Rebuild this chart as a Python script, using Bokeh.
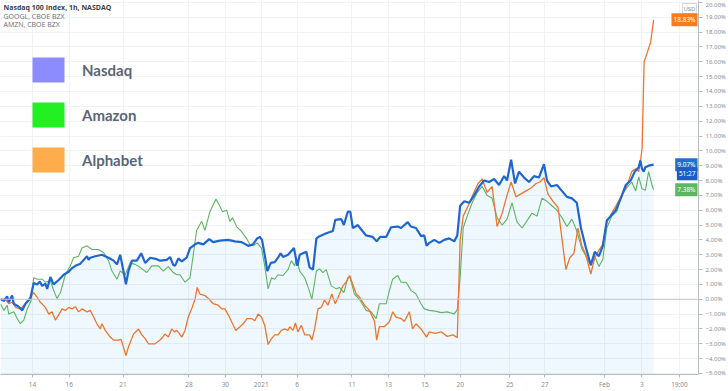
import numpy as np
from bokeh.plotting import figure
from bokeh.models import (Range1d, FixedTicker, Label, Span, Legend, LegendItem)
from bokeh.embed import file_html
from bokeh.resources import INLINE

# x: trading days since the 14 Dec 2020 session; y: % change
nasdaq_x = [-1.78,-1.59,-1.41,-1.32,-1.13,-1.04,-0.76,-0.57,-0.39,-0.11,
            0.07,0.26,0.41,0.54,0.72,0.82,1.0,1.18,1.46,1.74,
            2.02,2.21,2.39,2.67,3.04,3.13,3.22,3.5,3.87,4.24,
            4.52,4.71,4.89,5.07,5.21,5.35,5.54,5.82,6.06,6.28,
            6.56,6.93,7.11,7.48,7.67,7.85,7.94,8.13,8.32,8.59,
            8.78,9.06,9.24,9.52,9.85,10.07,10.44,10.91,11.28,11.65,
            12.02,12.29,12.52,12.67,12.79,12.94,13.09,13.28,13.5,13.68,
            13.83,13.96,14.24,14.57,14.76,14.89,15.26,15.44,15.63,15.82,
            16.0,16.37,16.74,16.87,17.21,17.35,17.57,17.71,17.85,18.13,
            18.32,18.59,18.96,19.18,19.37,19.71,19.98,20.35,20.54,20.72,
            20.91,21.09,21.37,21.65,21.83,21.96,22.11,22.39,22.67,22.94,
            23.22,23.5,23.67,23.83,24.06,24.33,24.61,24.89,25.17,25.44,
            25.72,26.0,26.28,26.44,26.67,26.89,27.11,27.39,27.67,27.94,
            28.22,28.5,28.67,28.89,29.22,29.5,29.78,30.06,30.33,30.56,
            30.83,31.11,31.33,31.56,31.78,32.0,32.22,32.5,32.78,33.06,
            33.33,33.56,33.78,33.87,33.96,34.06,34.15,34.33,34.61]
nasdaq_y = [0.0,-0.1,0.2,-0.2,0.25,-0.3,-0.5,-0.75,-0.3,0.1,
            1.1,1.0,1.2,0.9,1.05,0.7,1.5,1.0,1.3,1.65,
            1.85,2.1,2.25,2.4,2.9,2.65,2.8,2.9,3.0,2.8,
            2.6,2.35,3.0,1.9,1.0,1.9,2.6,2.6,3.1,2.45,
            2.8,2.7,2.6,2.65,2.85,2.3,2.25,2.75,2.55,2.8,
            3.45,3.7,3.8,3.7,4.05,3.85,3.95,4.0,3.9,3.85,
            3.6,3.7,4.1,4.2,4.0,3.0,1.9,2.45,2.5,2.8,
            3.1,2.85,3.0,3.45,2.25,3.0,3.2,2.15,2.0,4.1,
            4.25,4.45,4.6,5.35,5.4,5.0,5.9,5.9,4.8,5.0,
            4.7,4.3,4.2,3.9,4.2,4.2,4.85,4.9,4.8,5.0,
            5.2,4.9,4.8,4.25,4.3,3.6,3.8,4.0,3.8,4.0,
            4.1,3.9,4.3,6.3,6.6,6.5,7.0,7.6,8.0,7.9,
            8.1,7.7,8.3,8.0,9.4,7.8,8.6,8.2,7.9,8.3,
            8.2,9.1,8.0,7.6,7.7,7.3,6.9,6.8,6.5,4.8,
            3.5,2.3,3.2,2.9,3.6,5.3,5.6,6.0,6.8,7.7,
            8.0,8.6,8.9,9.35,8.8,8.6,8.9,9.0,9.07]

amazon_x = [-1.78,-1.59,-1.41,-1.32,-1.04,-0.85,-0.67,-0.48,-0.29,-0.07,
            0.07,0.26,0.54,0.72,1.0,1.18,1.37,1.56,1.83,2.11,
            2.29,2.57,2.76,3.04,3.32,3.68,3.96,4.24,4.43,4.71,
            4.89,5.17,5.44,5.72,6.0,6.37,6.65,7.02,7.29,7.57,
            7.85,8.04,8.22,8.5,8.78,8.96,9.15,9.43,9.61,9.89,
            10.22,10.41,10.59,10.82,11.0,11.15,11.37,11.65,11.93,12.11,
            12.29,12.52,12.76,12.94,13.13,13.32,13.5,13.68,13.96,14.24,
            14.43,14.61,14.71,14.89,15.17,15.39,15.57,15.82,16.0,16.18,
            16.37,16.65,16.93,17.11,17.35,17.57,17.69,17.94,18.22,18.59,
            18.87,19.15,19.33,19.71,19.89,20.07,20.35,20.54,20.82,21.09,
            21.37,21.65,21.83,22.11,22.44,22.78,23.11,23.5,23.67,23.83,
            24.0,24.22,24.5,24.78,25.06,25.33,25.61,25.89,26.17,26.44,
            26.72,27.0,27.28,27.56,27.83,28.11,28.39,28.67,28.94,29.22,
            29.5,29.78,30.06,30.33,30.61,30.89,31.11,31.33,31.56,31.78,
            32.0,32.28,32.56,32.83,33.11,33.39,33.61,33.78,33.96,34.15,
            34.33,34.52,34.61]
amazon_y = [-0.3,-0.75,-0.4,-1.0,-0.85,-1.3,-1.65,-1.4,-0.65,-0.1,
            1.45,1.35,1.35,1.15,1.25,0.6,0.05,0.45,1.65,2.25,
            2.8,2.9,3.45,3.6,3.35,3.35,3.15,2.6,1.9,1.35,
            1.9,1.65,2.45,2.35,2.15,1.8,2.25,2.25,1.9,2.2,
            1.8,1.65,1.65,1.15,1.45,3.0,4.65,5.25,4.65,5.9,
            6.75,6.35,5.9,6.0,5.25,5.5,4.9,4.55,4.1,3.7,
            3.6,3.8,3.45,2.25,0.7,1.45,1.35,1.65,1.6,2.0,
            2.6,2.25,2.8,1.9,1.45,0.7,0.0,1.9,2.05,1.8,
            2.0,0.9,0.7,0.8,0.45,1.45,1.5,0.35,0.0,-0.75,
            -0.85,-1.3,-0.3,-0.3,0.6,1.35,1.6,1.15,1.15,0.6,
            0.35,-0.3,-0.65,-0.75,-0.8,-0.9,-0.85,-1.0,-0.7,1.5,
            4.8,5.6,6.5,7.2,7.6,7.0,6.8,5.5,5.0,5.4,
            6.5,5.2,4.8,5.3,5.8,5.6,6.8,6.6,6.3,6.0,
            5.5,4.9,5.4,4.6,3.4,2.8,2.3,2.9,2.2,2.7,
            4.8,5.6,5.9,7.0,7.5,7.9,7.3,8.25,7.45,7.35,
            8.6,7.7,7.38]

alphabet_x = [-1.78,-1.5,-1.32,-1.13,-0.94,-0.67,-0.48,-0.29,-0.11,0.07,
              0.26,0.44,0.72,0.91,1.09,1.28,1.46,1.65,1.83,2.02,
              2.21,2.39,2.57,2.76,3.04,3.22,3.41,3.59,3.78,3.87,
              4.06,4.33,4.52,4.79,4.94,5.21,5.35,5.63,5.91,6.09,
              6.28,6.46,6.83,7.11,7.39,7.57,7.76,7.91,8.04,8.18,
              8.32,8.5,8.68,8.87,9.06,9.18,9.33,9.61,9.85,10.07,
              10.35,10.54,10.72,10.91,11.09,11.33,11.56,11.74,11.96,12.21,
              12.39,12.57,12.76,12.94,13.13,13.32,13.5,13.68,13.87,14.06,
              14.24,14.33,14.52,14.65,14.79,14.98,15.17,15.44,15.57,15.72,
              15.91,16.09,16.28,16.46,16.68,16.87,17.11,17.29,17.48,17.67,
              17.85,18.04,18.22,18.5,18.78,19.06,19.18,19.33,19.61,19.89,
              20.07,20.26,20.54,20.72,21.0,21.18,21.37,21.65,21.96,22.11,
              22.44,22.78,23.11,23.44,23.67,23.83,24.0,24.28,24.56,24.83,
              25.06,25.33,25.61,25.89,26.17,26.44,26.67,26.94,27.22,27.5,
              27.78,28.06,28.28,28.5,28.72,29.0,29.28,29.5,29.72,29.94,
              30.17,30.39,30.61,30.83,31.11,31.33,31.56,31.78,32.0,32.28,
              32.56,32.83,33.11,33.39,33.61,33.78,33.89,33.97,34.08,34.22,
              34.44,34.61]
alphabet_y = [0.0,0.0,-0.3,-0.2,-0.55,-0.65,-0.4,-0.2,0.15,0.45,
              0.15,-0.2,-0.55,-1.0,-0.85,-1.4,-1.05,-0.65,-0.75,-0.55,
              -0.65,-0.5,-0.85,-0.65,-0.85,-0.75,-1.2,-1.65,-2.0,-1.65,
              -2.1,-2.55,-2.75,-2.75,-2.7,-3.8,-3.2,-2.35,-2.0,-2.4,
              -2.65,-3.0,-3.0,-2.75,-2.35,-2.55,-2.0,-2.2,-2.1,-2.3,
              -2.55,-2.1,-1.2,-0.65,0.0,0.8,0.35,0.25,0.0,-0.3,
              -0.4,-0.65,-0.65,-1.05,-1.5,-2.1,-1.85,-1.65,-1.3,-1.3,
              -1.45,-1.0,-1.2,-1.75,-3.05,-2.65,-2.4,-2.4,-2.1,-2.0,
              -2.1,-1.85,-2.1,-1.6,-2.2,-1.75,-2.4,-2.4,-2.75,-2.0,
              -0.65,-0.55,-0.05,-0.4,0.35,-0.3,0.35,0.9,1.15,1.6,
              1.0,0.35,0.15,-0.4,-0.75,-1.5,-2.75,-1.85,-1.85,-1.5,
              -0.85,-1.2,-1.3,-1.5,-0.85,-2.0,-1.65,-2.0,-2.55,-2.2,
              -2.3,-2.2,-2.5,-2.4,-2.6,4.0,5.6,6.3,7.1,7.8,
              8.1,7.2,7.6,4.9,5.8,7.0,7.9,6.9,7.1,7.3,
              7.5,7.8,7.9,8.2,7.1,6.6,6.2,4.1,2.0,2.8,
              3.1,4.8,3.6,3.0,1.7,2.8,3.3,3.7,5.2,5.8,
              6.4,7.0,7.6,8.6,8.8,8.6,9.4,10.2,16.0,16.5,
              17.3,18.83]

tick_pos = [0, 2.05, 5.05, 8.72, 10.75, 12.75, 14.75, 17.8, 19.83, 21.87,
            23.83, 26.6, 28.55, 31.87, 33.95, 36.05]
tick_lbl = ["14", "16", "21", "28", "30", "2021", "6", "11", "13", "15",
            "20", "25", "27", "Feb", "3", "19:00"]
y_ticks = list(range(-5, 21))

legend_names = ["Nasdaq", "Amazon", "Alphabet"]
legend_colors = ["#8c8cff", "#22f022", "#ffad4a"]

x_start, x_end = -1.78, 37.11
y_start, y_end = -5.07, 20.13

BLUE = "#1f66d1"
GREEN = "#5db561"
ORANGE = "#f0752a"
GRID = "#f0f2f6"
AXIS = "#b8bbc4"
TXT = "#8a8d97"

p = figure(width=728, height=391, output_backend="svg", toolbar_location=None,
           x_range=Range1d(x_start, x_end), y_range=Range1d(y_start, y_end),
           y_axis_location="right",
           min_border_left=0, min_border_top=0, min_border_right=0, min_border_bottom=0)
p.outline_line_color = None
p.background_fill_color = "white"
p.border_fill_color = "white"

# axes
p.xaxis.ticker = FixedTicker(ticks=tick_pos)
p.xaxis.major_label_overrides = {t: l for t, l in zip(tick_pos, tick_lbl)}
p.xaxis.major_label_text_font_size = "6.5px"
p.xaxis.major_label_text_color = TXT
p.xaxis.major_label_text_font = "Noto Sans"
p.xaxis.major_label_standoff = 2
p.xaxis.major_tick_out = 3
p.xaxis.major_tick_in = 0
p.xaxis.minor_tick_line_color = None
p.xaxis.axis_line_color = AXIS
p.xaxis.major_tick_line_color = AXIS

p.yaxis.ticker = FixedTicker(ticks=y_ticks)
p.yaxis.major_label_overrides = {v: (f"{v:.2f}%").replace("-", "\u2212") for v in y_ticks}
p.yaxis.major_label_text_font_size = "6px"
p.yaxis.major_label_text_color = TXT
p.yaxis.major_label_text_font = "Noto Sans"
p.yaxis.major_label_standoff = 3
p.yaxis.major_tick_out = 4
p.yaxis.major_tick_in = 0
p.yaxis.minor_tick_line_color = None
p.yaxis.axis_line_color = AXIS
p.yaxis.major_tick_line_color = AXIS

p.xgrid.ticker = FixedTicker(ticks=tick_pos)
p.xgrid.grid_line_color = GRID
p.ygrid.ticker = FixedTicker(ticks=y_ticks)
p.ygrid.grid_line_color = GRID

p.add_layout(Span(location=0, dimension="width", line_color="#c3c6ce", line_width=1))

# data
p.varea(x=nasdaq_x, y1=[y_start] * len(nasdaq_x), y2=nasdaq_y,
        fill_color="#2196f3", fill_alpha=0.07)
p.line(amazon_x, amazon_y, line_color=GREEN, line_width=1.1)
p.line(alphabet_x, alphabet_y, line_color=ORANGE, line_width=1.3)
p.line(nasdaq_x, nasdaq_y, line_color=BLUE, line_width=2.2)

# legend (square swatches)
items = []
for name, col in zip(legend_names, legend_colors):
    r = p.vbar(x=[np.nan], top=[np.nan], width=1, fill_color=col, line_color=None)
    items.append(LegendItem(label=name, renderers=[r]))
legend = Legend(items=items, location=(28, 199), glyph_width=40, glyph_height=31,
                spacing=14, padding=0, margin=0, label_standoff=14,
                label_text_font="Lato", label_text_font_size="15px",
                label_text_font_style="bold", label_text_color="#5b6676",
                border_line_color=None, background_fill_alpha=0)
p.add_layout(legend)

# header texts
hdr = [("Nasdaq 100 Index, 1h, NASDAQ", "bold", "#3c3f4a", -7.3),
       ("GOOGL, CBOE BZX", "normal", "#6a6d78", -15.7),
       ("AMZN, CBOE BZX", "normal", "#6a6d78", -24.0)]
for t, st, c, off in hdr:
    p.add_layout(Label(x=3, x_units="screen", y=y_end, y_offset=off, text=t,
                       text_font="Open Sans", text_font_size="7px", text_font_style=st,
                       text_color=c, text_baseline="middle"))

# price scale tags (kept inside the frame, against the price scale)
p.add_layout(Label(x=x_end, y=y_end, x_offset=-2, y_offset=-8, text="USD",
                   text_align="right", text_font="Noto Sans", text_font_size="6px",
                   text_color=TXT, text_baseline="middle", background_fill_color="white",
                   border_line_color="#d6d8de", padding=1))
tags = [(alphabet_y[-1], f"{alphabet_y[-1]:.2f}%", "#f57c20", 0),
        (nasdaq_y[-1], f"{nasdaq_y[-1]:.2f}%", "#1f6fd6", 0),
        (nasdaq_y[-1], "51:27", "#1a5fbf", -9),
        (amazon_y[-1], f"{amazon_y[-1]:.2f}%", "#5cb85f", 0)]
for yv, t, bg, off in tags:
    p.add_layout(Label(x=x_end, y=yv, x_offset=-1, y_offset=off, text=t, text_align="right",
                       text_font="Noto Sans", text_font_size="6.5px", text_color="white",
                       text_baseline="middle", background_fill_color=bg, padding=2))

open("out.html", "w").write(file_html(p, INLINE))
